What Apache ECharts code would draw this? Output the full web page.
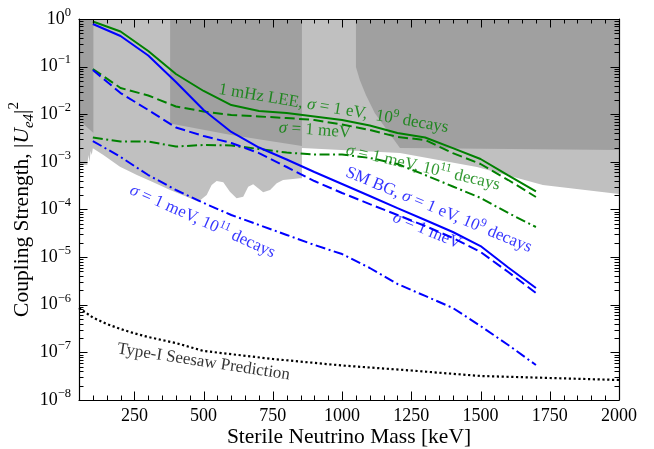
<!DOCTYPE html>
<html>
<head>
<meta charset="utf-8">
<script src="https://cdn.jsdelivr.net/npm/echarts@6/dist/echarts.min.js"></script>
<style>
  html, body { margin: 0; padding: 0; background: #fff; }
  #chart { width: 654px; height: 449px; }
</style>
</head>
<body>
<div id="chart"></div>
<script>
// ---- sterile neutrino mass grid (keV) shared by the sensitivity curves ----
const massKeV = [100, 200, 300, 400, 500, 600, 700, 800, 900, 1000, 1100, 1200, 1300, 1400, 1500, 1600, 1700];

// 1 mHz LEE background
const leeEv1e9   = [0.886, 0.546, 0.213, 0.0700, 0.0308, 0.0156, 0.0117, 0.0106, 0.00897, 0.00757, 0.00581, 0.00404, 0.00325, 0.00195, 0.00115, 0.000518, 0.000239];
const leeMeV1e9  = [0.0891, 0.0356, 0.0248, 0.01455, 0.01142, 0.00964, 0.00897, 0.00834, 0.00757, 0.00610, 0.00467, 0.00333, 0.00288, 0.00153, 0.000902, 0.000416, 0.000183];
const leeMeV1e11 = [0.00325, 0.00268, 0.00268, 0.00210, 0.00226, 0.00221, 0.00186, 0.00157, 0.00143, 0.00143, 0.00121, 0.000902, 0.000530, 0.000304, 0.000175, 0.0000845, 0.0000429];

// Standard Model background
const smEv1e9    = [0.785, 0.440, 0.171, 0.0475, 0.0123, 0.00424, 0.00200, 0.00112, 0.000612, 0.000343, 0.000192, 0.000107, 0.0000602, 0.0000337, 0.0000171, 0.00000605, 0.00000225];
const smMeV1e9   = [0.0850, 0.0279, 0.0123, 0.00527, 0.00349, 0.00249, 0.00153, 0.000780, 0.000396, 0.000222, 0.000130, 0.0000767, 0.0000451, 0.0000252, 0.0000128, 0.00000487, 0.00000177];
const smMeV1e11  = [0.00274, 0.00127, 0.000530, 0.000257, 0.000137, 0.0000767, 0.0000473, 0.0000292, 0.0000180, 0.0000116, 0.00000591, 0.00000273, 0.00000153, 8.55e-7, 3.58e-7, 1.43e-7, 5.43e-8];

// Type-I seesaw expectation
const seesawMass = [50, 100, 150, 200, 250, 300, 400, 500, 750, 1000, 1250, 1500, 1750, 2000];
const seesawU2   = [8.55e-7, 5.37e-7, 3.94e-7, 3.10e-7, 2.51e-7, 2.10e-7, 1.57e-7, 1.07e-7, 7.26e-8, 5.30e-8, 4.16e-8, 3.19e-8, 2.90e-8, 2.63e-8];

// Excluded regions, [mass keV, |U|^2] outlines
const excludedLight = [
  [50, 1], [2000, 1], [2000, 2.11e-4], [1725, 3.27e-4], [1487, 7.8e-4], [1209, 1.53e-3], [855, 1.95e-3],
  [855, 4.52e-4], [848, 4.52e-4], [787, 4.16e-4], [764, 3.55e-4], [740, 2.57e-4], [715, 2.30e-4],
  [697, 2.79e-4], [679, 3.38e-4], [661, 3.01e-4], [643, 1.86e-4], [619, 1.72e-4], [595, 2.37e-4],
  [571, 3.72e-4], [547, 3.97e-4], [529, 3.27e-4], [511, 2.02e-4], [481, 1.46e-4], [439, 1.86e-4],
  [379, 2.57e-4], [318, 3.72e-4], [259, 5.30e-4], [198, 7.92e-4], [138, 1.39e-3], [100, 1.93e-3],
  [96, 1.4e-3], [92, 1.7e-3], [88, 1.0e-3], [84, 1.4e-3], [80, 8.6e-4], [50, 8.6e-4]
];
const excludedStrip = [[50, 1], [102, 1], [102, 4.04e-3], [50, 7.57e-3]];
const excludedDarkA = [[379, 1], [855, 1], [855, 2.15e-3], [600, 3.67e-3], [379, 6.4e-3]];
const excludedDarkB = [
  [1050, 1], [2000, 1], [2000, 1.77e-3], [1209, 1.95e-3], [1162, 4.67e-3], [1118, 0.0106],
  [1086, 0.0254], [1064, 0.0524], [1050, 0.098]
];

// Axis ticks
const xMajorTicks = [250, 500, 750, 1000, 1250, 1500, 1750, 2000];
const xMinorTicks = [];
for (let v = 100; v < 2000; v += 50) if (v % 250 !== 0) xMinorTicks.push(v);
const yDecades = [1e-8, 1e-7, 1e-6, 1e-5, 1e-4, 1e-3, 1e-2, 1e-1, 1];
const yMinorTicks = [];
for (let e = -8; e < 0; e++) for (let k = 2; k <= 9; k++) yMinorTicks.push(k * Math.pow(10, e));

// ---- styling ----
const FONT = '"Liberation Serif", "DejaVu Serif", serif';
const GREEN = '#008000';
const BLUE = '#0000ff';
const LIGHT = '#c0c0c0';
const DARK = '#a0a0a0';
const DASH = [10, 4.4];
const DASHDOT = [10, 3.5, 2, 3.5];
const ANNO_SIZE = 17;

const pairs = (xs, ys) => xs.map((x, i) => [x, ys[i]]);

function regionSeries(name, outline, color, z) {
  return {
    name, type: 'custom', coordinateSystem: 'cartesian2d', z, silent: true,
    data: [outline[0]],
    renderItem: (params, api) => ({
      type: 'polygon',
      shape: { points: outline.map(p => api.coord(p)) },
      style: { fill: color, stroke: null }
    })
  };
}

function curve(name, ys, color, type) {
  return {
    name, type: 'line', z: 3, silent: true, showSymbol: false, symbol: 'none',
    data: pairs(massKeV, ys),
    lineStyle: { color, width: 2, type, cap: 'butt' }
  };
}

// tick records: [x, y, axis (0 = x, 1 = y), major flag]
const tickData = [];
xMajorTicks.forEach(v => tickData.push([v, 1e-8, 0, 1]));
xMinorTicks.forEach(v => tickData.push([v, 1e-8, 0, 0]));
yDecades.forEach(v => tickData.push([50, v, 1, 1]));
yMinorTicks.forEach(v => tickData.push([50, v, 1, 0]));

const tickLine = (x1, y1, x2, y2) => ({
  type: 'line', shape: { x1, y1, x2, y2 }, style: { stroke: '#000', lineWidth: 1 }
});

const ticksSeries = {
  name: 'ticks', type: 'custom', coordinateSystem: 'cartesian2d', z: 8, silent: true, clip: false,
  data: tickData,
  renderItem: (params, api) => {
    const v0 = api.value(0), v1 = api.value(1), axis = api.value(2), major = api.value(3);
    const len = major ? 8.5 : 4.5;
    if (axis === 0) {
      const b = api.coord([v0, 1e-8]), t = api.coord([v0, 1]);
      const x = Math.round(b[0]) + 0.5;
      return { type: 'group', children: [tickLine(x, b[1], x, b[1] - len), tickLine(x, t[1], x, t[1] + len)] };
    }
    const l = api.coord([50, v1]), r = api.coord([2000, v1]);
    const y = Math.round(l[1]) + 0.5;
    return { type: 'group', children: [tickLine(l[0], y, l[0] + len, y), tickLine(r[0], y, r[0] - len, y)] };
  }
};

// curve annotations
const annoRich = (size) => ({
  i: { fontStyle: 'italic', fontFamily: FONT, fontSize: size, lineHeight: 22 },
  sup: { fontFamily: FONT, fontSize: size * 0.7, lineHeight: 12, verticalAlign: 'top' }
});
const annotations = [
  { text: '1 mHz LEE, {i|σ} = 1 eV,  10{sup|9} decays', at: [969, 0.0132], angle: -9.5, color: GREEN },
  { text: '{i|σ} = 1 meV', at: [902, 0.00460], angle: -4, color: GREEN },
  { text: '{i|σ} = 1 meV, 10{sup|11} decays', at: [1292, 7.6e-4], angle: -13, color: GREEN },
  { text: 'SM BG, {i|σ} = 1 eV, 10{sup|9} decays', at: [1349, 9.76e-5], angle: -22.5, color: BLUE },
  { text: '{i|σ} = 1 meV', at: [1306, 3.6e-5], angle: -22.5, color: BLUE },
  { text: '{i|σ} = 1 meV, 10{sup|11} decays', at: [496, 5.6e-5], angle: -24, color: BLUE },
  { text: 'Type-I Seesaw Prediction', at: [500, 6.28e-8], angle: -8.7, color: '#000' }
];
const annoSeries = {
  name: 'annotations', type: 'scatter', z: 9, silent: true,
  symbolSize: 1, itemStyle: { color: 'transparent' },
  data: annotations.map(a => ({
    value: a.at,
    label: {
      show: true, position: 'inside', formatter: a.text, rotate: a.angle,
      color: a.color, fontFamily: FONT, fontSize: ANNO_SIZE, lineHeight: 22,
      rich: annoRich(ANNO_SIZE)
    }
  }))
};

const supLabel = (v) => {
  const e = Math.round(Math.log10(v));
  return '{b|10}{s|' + (e === 0 ? '0' : '\u2212' + (-e)) + '}';
};

const axisLineStyle = { show: true, onZero: false, lineStyle: { color: '#000', width: 1.2 } };

const option = {
  animation: false,
  backgroundColor: '#fff',
  grid: { left: 79, right: 35, top: 19, bottom: 49, containLabel: false, outerBoundsMode: 'none' },
  xAxis: [
    {
      type: 'value', min: 50, max: 2000, interval: 50, z: 10,
      axisLine: axisLineStyle, axisTick: { show: false }, splitLine: { show: false },
      axisLabel: {
        margin: 7, color: '#000', fontFamily: FONT, fontSize: 18,
        formatter: v => (v % 250 === 0 ? String(v) : '')
      },
      name: 'Sterile Neutrino Mass [keV]', nameLocation: 'middle', nameGap: 26, nameMoveOverlap: false,
      nameTextStyle: { color: '#000', fontFamily: FONT, fontSize: 21.5 }
    },
    {
      type: 'value', position: 'top', min: 50, max: 2000, interval: 50, z: 10,
      axisLine: axisLineStyle, axisTick: { show: false }, splitLine: { show: false },
      axisLabel: { show: false }
    }
  ],
  yAxis: [
    {
      type: 'log', logBase: 10, min: 1e-8, max: 1, z: 10,
      axisLine: axisLineStyle, axisTick: { show: false }, splitLine: { show: false },
      axisLabel: {
        margin: 8, formatter: supLabel,
        rich: {
          b: { color: '#000', fontFamily: FONT, fontSize: 18, lineHeight: 26 },
          s: { color: '#000', fontFamily: FONT, fontSize: 12.5, lineHeight: 12, verticalAlign: 'top' }
        }
      },
      name: 'Coupling Strength, |{i|U}{sub|e4}|{sup|2}',
      nameLocation: 'middle', nameRotate: 90, nameGap: 42, nameMoveOverlap: false,
      nameTextStyle: {
        color: '#000', fontFamily: FONT, fontSize: 21.5, lineHeight: 30,
        rich: {
          i: { fontFamily: FONT, fontStyle: 'italic', fontSize: 21.5, lineHeight: 30 },
          sub: { fontFamily: FONT, fontStyle: 'italic', fontSize: 15, lineHeight: 20, verticalAlign: 'bottom' },
          sup: { fontFamily: FONT, fontSize: 15, lineHeight: 14, verticalAlign: 'top' }
        }
      }
    },
    {
      type: 'log', logBase: 10, min: 1e-8, max: 1, position: 'right', z: 10,
      axisLine: axisLineStyle, axisTick: { show: false }, splitLine: { show: false },
      axisLabel: { show: false }
    }
  ],
  series: [
    regionSeries('excluded light', excludedLight, LIGHT, 1),
    regionSeries('excluded strip', excludedStrip, DARK, 1.5),
    regionSeries('excluded dark A', excludedDarkA, DARK, 1.5),
    regionSeries('excluded dark B', excludedDarkB, DARK, 1.5),
    curve('LEE 1 eV 1e9', leeEv1e9, GREEN, 'solid'),
    curve('LEE 1 meV 1e9', leeMeV1e9, GREEN, DASH),
    curve('LEE 1 meV 1e11', leeMeV1e11, GREEN, DASHDOT),
    curve('SM 1 eV 1e9', smEv1e9, BLUE, 'solid'),
    curve('SM 1 meV 1e9', smMeV1e9, BLUE, DASH),
    curve('SM 1 meV 1e11', smMeV1e11, BLUE, DASHDOT),
    {
      name: 'Type-I seesaw', type: 'line', z: 3, silent: true, showSymbol: false, symbol: 'none',
      data: pairs(seesawMass, seesawU2),
      lineStyle: { color: '#000', width: 2.2, type: [2.2, 2.6], cap: 'butt' }
    },
    ticksSeries,
    annoSeries
  ]
};

const chart = echarts.init(document.getElementById('chart'), null, { renderer: 'canvas' });
chart.setOption(option);
</script>
</body>
</html>
